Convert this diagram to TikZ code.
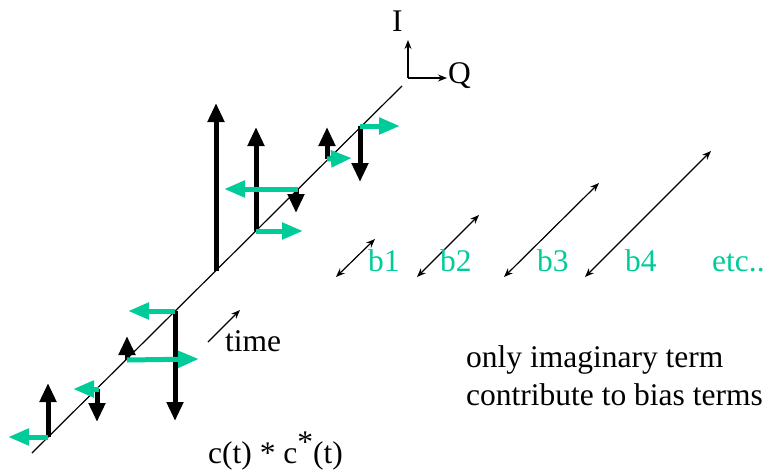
\documentclass[tikz,border=0pt]{standalone}
\usepackage{fontspec}
\setmainfont{Liberation Serif}
\usetikzlibrary{arrows.meta}
\definecolor{tq}{RGB}{0,204,153}
\begin{document}
\begin{tikzpicture}[x=1pt,y=-1pt,
  blk/.style={line width=5pt,-{Triangle[width=16pt,length=19pt]}},
  grn/.style={draw=tq,fill=tq,line width=5pt,-{Triangle[width=16pt,length=21pt]}},
  thinline/.style={line width=1.2pt},
  thinarrow/.style={line width=1.2pt,-{Stealth[length=9pt,width=7pt]}},
  dblarrow/.style={line width=1.2pt,{Stealth[length=9pt,width=7pt]}-{Stealth[length=9pt,width=7pt]}},
  lbl/.style={font=\fontsize{31.5}{36}\selectfont,inner sep=0pt,anchor=base west},
  glbl/.style={lbl,text=tq}]
\useasboundingbox (0,0) rectangle (765,471);
% time axis
\coordinate (ax0) at (32,453);
\coordinate (ax1) at (402,86);
\draw[thinline] (ax0) -- (ax1);
% I/Q axes
\coordinate (o) at (408,78);
\coordinate (iend) at (408,40);
\coordinate (qend) at (447,78);
\draw[thinarrow] (o) -- (iend);
\draw[thinarrow] (o) -- (qend);
\node[lbl] (ilab) at (392,31) {I};
\node[lbl] (qlab) at (448,83) {Q};
% base points on the time axis
\coordinate (p1) at (48,437);
\coordinate (p2) at (97,389);
\coordinate (p3) at (127,360);
\coordinate (p4) at (175,311);
\coordinate (p5) at (216,271);
\coordinate (p6) at (256,231);
\coordinate (p7) at (296,189);
\coordinate (p8) at (327,159);
\coordinate (p9) at (360,126);
% black (I) arrows
\draw[blk] (p1) -- (48,383);
\draw[blk] (p2) -- (97,422);
\draw[blk] (p3) -- (127,336);
\draw[blk] (p4) -- (175,421);
\draw[blk] (p5) -- (216,103);
\draw[blk] (p6) -- (256,127);
\draw[blk] (p7) -- (296,213);
\draw[blk] (p8) -- (327,127);
\draw[blk] (p9) -- (360,182);
% green (Q) arrows
\draw[grn] (p1) -- (8,437);
\draw[grn] (99,389) -- (73,389);
\draw[grn] (p3) -- (199,359);
\draw[grn] (p4) -- (128,311);
\draw[grn] (p6) -- (303,231);
\draw[grn] (298,189) -- (224,189);
\draw[grn] (p8) -- (352,158);
\draw[grn] (p9) -- (400,126);
% time arrow
\coordinate (t0) at (208,342);
\coordinate (t1) at (240,310);
\draw[thinarrow] (t0) -- (t1);
\node[lbl] (timelab) at (225,351) {time};
\node[lbl] (clab) at (208,463) {c(t) * c\raisebox{0.32em}{*}(t)};
% bias terms
\coordinate (b1s) at (336,277); \coordinate (b1e) at (375,239);
\coordinate (b2s) at (417,277); \coordinate (b2e) at (479,215);
\coordinate (b3s) at (504,277); \coordinate (b3e) at (599,183);
\coordinate (b4s) at (585,277); \coordinate (b4e) at (711,151);
\draw[dblarrow] (b1s) -- (b1e);
\draw[dblarrow] (b2s) -- (b2e);
\draw[dblarrow] (b3s) -- (b3e);
\draw[dblarrow] (b4s) -- (b4e);
\node[glbl] (bl1) at (368,271) {b1};
\node[glbl] (bl2) at (440,271) {b2};
\node[glbl] (bl3) at (537,271) {b3};
\node[glbl] (bl4) at (625,271) {b4};
\node[glbl] (etc) at (712,271) {etc..};
\node[lbl] (note1) at (466,367) {only imaginary term};
\node[lbl] (note2) at (466,405) {contribute to bias terms};
\end{tikzpicture}
\end{document}
